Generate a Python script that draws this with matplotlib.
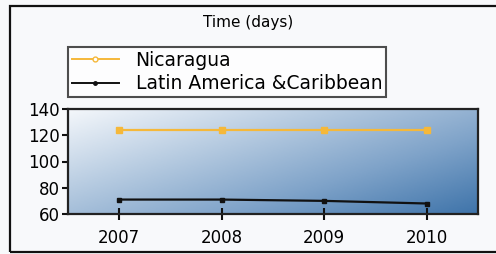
import matplotlib
matplotlib.use("Agg")
import matplotlib.pyplot as plt
import numpy as np
from matplotlib.colors import LinearSegmentedColormap
from matplotlib.lines import Line2D
from matplotlib.patches import Rectangle

years = ["2007", "2008", "2009", "2010"]
nicaragua = [124, 124, 124, 124]
lac = [71, 71, 70, 68]
yticks = [60, 80, 100, 120, 140]

fig = plt.figure(figsize=(4.96, 2.54), dpi=100)
fig.patch.set_facecolor("#f8f9fb")

# outer frame
fig.add_artist(Rectangle((10/496, 2/254), 500/496, 246/254, transform=fig.transFigure,
                         fill=False, edgecolor="#111111", linewidth=1.6))

ax = fig.add_axes([68/496, 40/254, 410/496, 105/254])
x = np.arange(len(years))

# gradient background (light top-left -> dark bottom-right)
gx = np.linspace(0, 1, 256)
gy = np.linspace(0, 1, 128)
GX, GY = np.meshgrid(gx, gy)
val = (GX * 0.55 + GY * 0.45)
cmap = LinearSegmentedColormap.from_list("g", ["#f4f7fb", "#b9cde2", "#7fa3c9", "#3f74aa"])
ax.imshow(val, cmap=cmap, extent=[0, 1, 0, 1], transform=ax.transAxes, aspect="auto",
          origin="upper", zorder=0)

ax.plot(x, nicaragua, color="#f5b83a", linewidth=1.6, marker="s", markersize=4.5,
        markeredgecolor="#f5b83a", zorder=3)
ax.plot(x, lac, color="#111111", linewidth=1.6, marker="s", markersize=3.5, zorder=3)

ax.set_xlim(-0.5, 3.5)
ax.set_ylim(60, 140)
ax.set_yticks(yticks)
ax.set_xticks(x)
ax.set_xticklabels(years)
ax.tick_params(axis="both", labelsize=12, color="#111111", width=1.5, length=5)
ax.tick_params(axis="x", direction="inout", length=8, pad=7)
ax.tick_params(axis="y", direction="out", length=4, pad=2)
for s in ax.spines.values():
    s.set_color("#222222")
    s.set_linewidth(1.6)

fig.text(248/496, 1 - 22/254, "Time (days)", ha="center", va="center", fontsize=11)

handles = [Line2D([], [], color="#f5b83a", linewidth=1.4, marker="o", markersize=3.5,
                  markerfacecolor="white", markeredgecolor="#f5b83a"),
           Line2D([], [], color="#111111", linewidth=1.4, marker="o", markersize=2.5)]
leg = fig.legend(handles, ["Nicaragua", "Latin America &Caribbean"], loc="upper left",
                 bbox_to_anchor=(68/496, 1 - 47/254), fontsize=13.5, frameon=True,
                 fancybox=False, borderpad=0.2, labelspacing=0.25, handlelength=2.5,
                 handletextpad=0.9, borderaxespad=0)
leg.get_frame().set_edgecolor("#222222")
leg.get_frame().set_linewidth(1.5)
leg.get_frame().set_facecolor("white")

fig.savefig("out.png", dpi=100, facecolor=fig.get_facecolor())
